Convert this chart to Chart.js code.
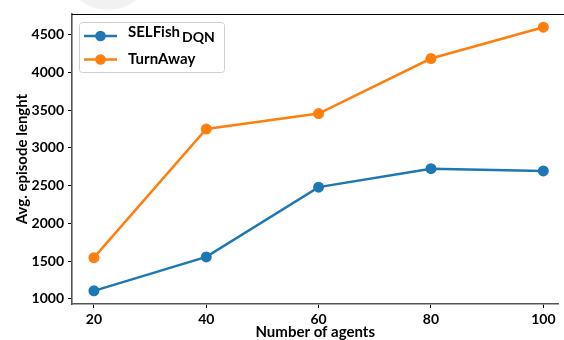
<!DOCTYPE html>
<html>
<head>
<meta charset="utf-8">
<script src="https://cdn.jsdelivr.net/npm/chart.js@4/dist/chart.umd.min.js"></script>
<style>
  html, body { margin: 0; padding: 0; background: #fff; }
  canvas { display: block; }
</style>
</head>
<body>
<canvas id="chart" width="564" height="340"></canvas>
<script>
const agents = [20, 40, 60, 80, 100];
const selfishDqn = [1105, 1555, 2480, 2725, 2695];
const turnAway = [1545, 3250, 3455, 4185, 4600];
const yTicks = [1000, 1500, 2000, 2500, 3000, 3500, 4000, 4500];

const BLUE = "#1f77b4";
const ORANGE = "#ff7f0e";
const FONT = "Lato";

// custom legend so the DQN subscript can be drawn
const legendPlugin = {
  id: "subLegend",
  beforeDraw(chart) {
    const c = chart.ctx;
    // faint watermark blob at the top edge
    c.save();
    c.fillStyle = "#f1f1f1";
    c.beginPath();
    c.ellipse(108, -22, 38, 32, 0, 0, Math.PI * 2);
    c.fill();
    c.restore();
  },
  afterDraw(chart) {
    const c = chart.ctx;
    const a = chart.chartArea;
    c.save();
    // top spine (runs off the right edge like the cropped original)
    c.strokeStyle = "#000";
    c.lineWidth = 1.2;
    c.beginPath();
    c.moveTo(a.left, a.top + 0.5);
    c.lineTo(chart.width, a.top + 0.5);
    c.stroke();

    // legend frame
    const bx = 79.5, by = 22.5, bw = 145, bh = 50;
    c.fillStyle = "rgba(255,255,255,0.85)";
    c.strokeStyle = "#d0d0d0";
    c.lineWidth = 1;
    c.beginPath();
    c.roundRect(bx, by, bw, bh, 3);
    c.fill();
    c.stroke();

    const rows = [
      { color: BLUE, y: 36 },
      { color: ORANGE, y: 59.5 }
    ];
    rows.forEach(r => {
      c.strokeStyle = r.color;
      c.lineWidth = 2.5;
      c.beginPath();
      c.moveTo(84, r.y);
      c.lineTo(117, r.y);
      c.stroke();
      c.fillStyle = r.color;
      c.beginPath();
      c.arc(100.5, r.y, 5.3, 0, Math.PI * 2);
      c.fill();
    });

    c.fillStyle = "#000";
    c.textBaseline = "alphabetic";
    c.textAlign = "left";
    c.font = "bold 15px " + FONT;
    c.fillText("SELFish", 128, 37);
    const w = c.measureText("SELFish").width;
    c.font = "bold 14px " + FONT;
    c.fillText("DQN", 128 + w + 2, 42);
    c.font = "bold 15px " + FONT;
    c.fillText("TurnAway", 128, 63.5);
    c.restore();
  }
};

new Chart(document.getElementById("chart"), {
  type: "line",
  data: {
    datasets: [
      {
        label: "SELFishDQN",
        data: agents.map((x, i) => ({ x, y: selfishDqn[i] })),
        borderColor: BLUE,
        backgroundColor: BLUE,
        borderWidth: 2.5,
        pointRadius: 5.5,
        pointHoverRadius: 5.5,
        pointBorderWidth: 0
      },
      {
        label: "TurnAway",
        data: agents.map((x, i) => ({ x, y: turnAway[i] })),
        borderColor: ORANGE,
        backgroundColor: ORANGE,
        borderWidth: 2.5,
        pointRadius: 5.5,
        pointHoverRadius: 5.5,
        pointBorderWidth: 0
      }
    ]
  },
  options: {
    responsive: false,
    animation: false,
    devicePixelRatio: 1,
    layout: { padding: { top: 14, right: 0, bottom: 0, left: 0 } },
    plugins: {
      legend: { display: false },
      tooltip: { enabled: false }
    },
    scales: {
      x: {
        type: "linear",
        min: 16.1,
        max: 102.7,
        afterBuildTicks: (s) => { s.ticks = agents.map(v => ({ value: v })); },
        afterFit: (s) => { s.height = 36; },
        grid: { drawOnChartArea: false, drawTicks: true, tickLength: 4, tickColor: "#000", tickWidth: 1 },
        border: { color: "#555", width: 1.6 },
        ticks: {
          color: "#000", padding: 3, maxRotation: 0,
          callback: (v) => String(v),
          font: { family: FONT, size: 14, weight: "bold" }
        },
        title: {
          display: true,
          text: "Number of agents",
          color: "#000",
          padding: { top: 0, bottom: -1 },
          font: { family: FONT, size: 15, weight: "bold" }
        }
      },
      y: {
        min: 931,
        max: 4775,
        afterBuildTicks: (s) => { s.ticks = yTicks.map(v => ({ value: v })); },
        afterFit: (s) => { s.width = 72; },
        grid: { drawOnChartArea: false, drawTicks: true, tickLength: 4, tickColor: "#000", tickWidth: 1 },
        border: { color: "#555", width: 1.6 },
        ticks: {
          color: "#000", padding: 4,
          callback: (v) => String(v),
          font: { family: FONT, size: 14, weight: "bold" }
        },
        title: {
          display: true,
          text: "Avg. episode lenght",
          color: "#000",
          padding: { top: 13, bottom: 0 },
          font: { family: FONT, size: 15, weight: "bold" }
        }
      }
    }
  },
  plugins: [legendPlugin]
});
</script>
</body>
</html>
